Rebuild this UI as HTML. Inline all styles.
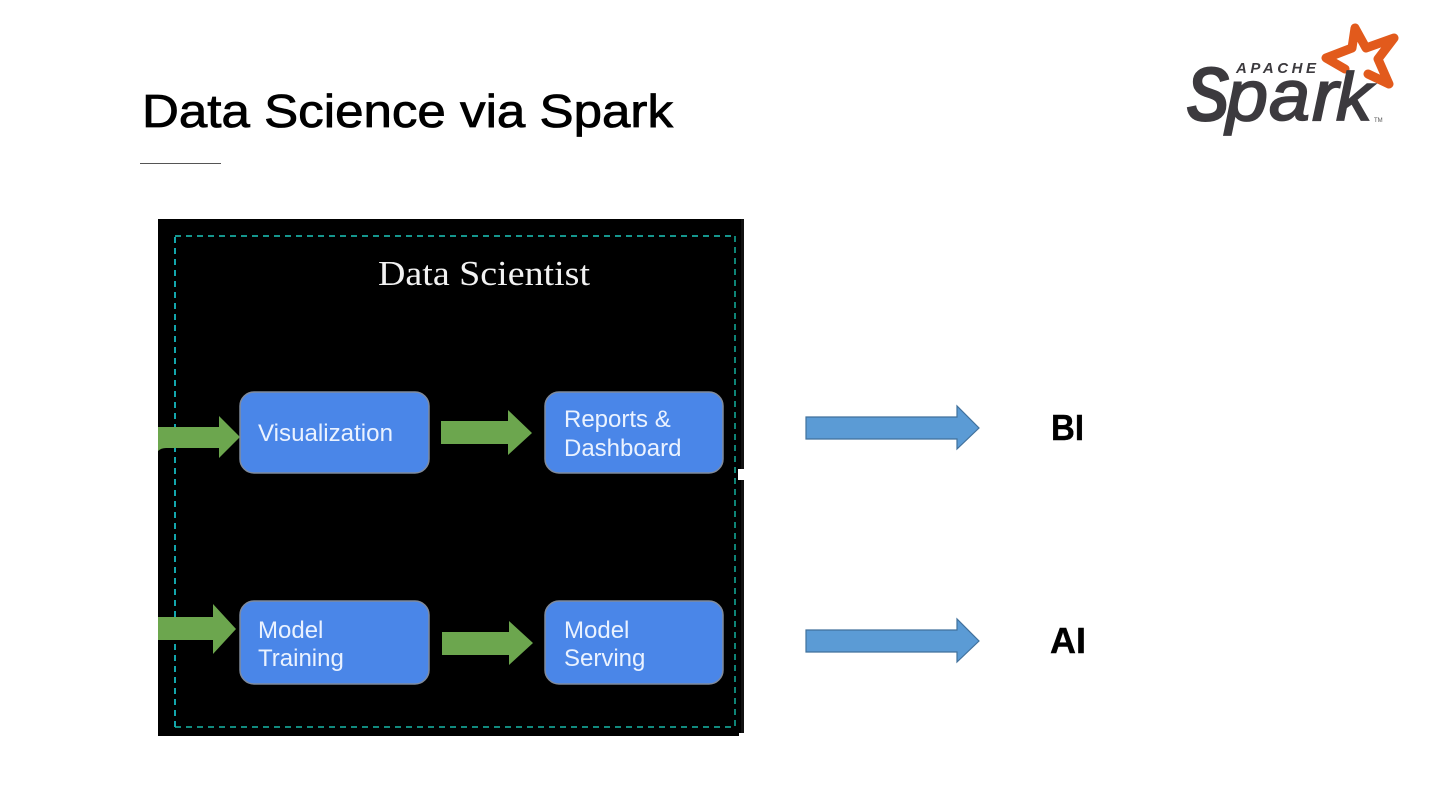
<!DOCTYPE html>
<html><head><meta charset="utf-8"><style>
html,body{margin:0;padding:0;background:#fff;width:1440px;height:810px;overflow:hidden}
svg{display:block}
</style></head><body>
<svg width="1440" height="810" viewBox="0 0 1440 810" xmlns="http://www.w3.org/2000/svg">
<rect width="1440" height="810" fill="#fff"/>
<text x="142" y="127" font-family="'Liberation Sans',sans-serif" font-size="46" fill="#000" stroke="#000" stroke-width=".8" textLength="531" lengthAdjust="spacingAndGlyphs">Data Science via Spark</text>
<rect x="140" y="163" width="81" height="1" fill="#555"/>

<!-- logo -->
<path d="M1345 69L1326 58L1352 48L1355 28L1366 48L1394 38L1378 59L1389 84L1368 74" fill="none" stroke="#e25a1c" stroke-width="9" stroke-linejoin="round" stroke-linecap="round"/>
<text x="1236" y="73" font-family="'Liberation Sans',sans-serif" font-weight="700" font-style="italic" font-size="15" fill="#3c3a3e" textLength="80" lengthAdjust="spacing">APACHE</text>
<g font-family="'Liberation Sans',sans-serif" font-style="italic" fill="#3c3a3e" stroke="#3c3a3e" stroke-width="1.8">
<text x="1186" y="121" font-size="78" font-weight="700" stroke-width="0" textLength="44" lengthAdjust="spacingAndGlyphs">S</text>
<text x="1226" y="120" font-size="71" textLength="42" lengthAdjust="spacingAndGlyphs">p</text>
<text x="1269" y="120" font-size="71" textLength="41" lengthAdjust="spacingAndGlyphs">a</text>
<text x="1312" y="120" font-size="71" textLength="26" lengthAdjust="spacingAndGlyphs">r</text>
<text x="1336" y="120" font-size="68" textLength="36" lengthAdjust="spacingAndGlyphs">k</text>
</g>
<text x="1374" y="122" font-family="'Liberation Sans',sans-serif" font-size="6" fill="#555">TM</text>

<!-- black panel -->
<rect x="158" y="219" width="583" height="517" fill="#000"/>
<rect x="741" y="219" width="3" height="514" fill="#111"/>
<rect x="738" y="469" width="6" height="11" fill="#fff"/>
<rect x="739" y="733" width="6" height="4" fill="#fff"/>
<g fill="none" stroke-width="1.6" stroke-dasharray="6 5">
<path d="M175 727V236" stroke="#18d0d8"/>
<path d="M175 236H735" stroke="#1cc8bc"/>
<path d="M735 236V727" stroke="#12a594"/>
<path d="M175 727H735" stroke="#17b8a8"/>
</g>
<text x="378" y="285" font-family="'Liberation Serif',serif" font-size="35" fill="#f2f2f2" textLength="212" lengthAdjust="spacingAndGlyphs">Data Scientist</text>

<!-- green arrows -->
<g fill="#6ca64e">
<path d="M158 427H219V416L240 437L219 458V448H166Q161 448 158 451Z"/>
<path d="M441 421H508V410L532 433L508 455V444H441Z"/>
<path d="M158 617H213V604L236 629L213 654V640H158Z"/>
<path d="M442 632H509V621L533 643L509 665V655H442Z"/>
</g>

<!-- boxes -->
<g fill="#4a86e8" stroke="#7f8a9c" stroke-width="1.5">
<rect x="240" y="392" width="189" height="81" rx="14"/>
<rect x="545" y="392" width="178" height="81" rx="14"/>
<rect x="240" y="601" width="189" height="83" rx="14"/>
<rect x="545" y="601" width="178" height="83" rx="14"/>
</g>
<g font-family="'Liberation Sans',sans-serif" font-size="24" fill="#eaf2ff">
<text x="258" y="441" textLength="135" lengthAdjust="spacingAndGlyphs">Visualization</text>
<text x="564" y="427">Reports &amp;</text>
<text x="564" y="456">Dashboard</text>
<text x="258" y="638">Model</text>
<text x="258" y="666">Training</text>
<text x="564" y="638">Model</text>
<text x="564" y="666">Serving</text>
</g>

<!-- blue arrows -->
<g fill="#5b9bd5" stroke="#41719c" stroke-width="1.2">
<path d="M806 417H957V406L979 428L957 449V439H806Z"/>
<path d="M806 630H957V619L979 641L957 662V652H806Z"/>
</g>
<g font-family="'Liberation Sans',sans-serif" font-weight="700" font-size="36" fill="#000" stroke="#000" stroke-width=".4">
<text x="1051" y="440" textLength="33" lengthAdjust="spacingAndGlyphs">BI</text>
<text x="1050" y="653" textLength="36" lengthAdjust="spacingAndGlyphs">AI</text>
</g>
</svg>
</body></html>
